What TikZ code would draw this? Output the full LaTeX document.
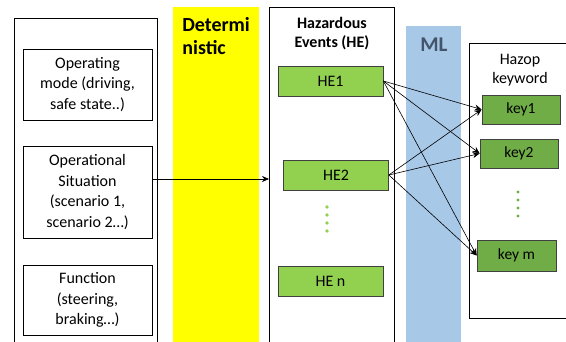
\documentclass[tikz,border=0pt]{standalone}
\usepackage{fontspec}
\setmainfont{Carlito}
\usepackage{xcolor}
\usetikzlibrary{arrows.meta,positioning,calc}
\definecolor{hegreen}{HTML}{92D050}
\definecolor{keygreen}{HTML}{70AD47}
\definecolor{mlblue}{HTML}{A8C8E8}
\definecolor{mltext}{HTML}{44546A}
\definecolor{detyellow}{HTML}{FFFF00}

\begin{document}
\begin{tikzpicture}[x=1pt,y=-1pt,line width=0.7pt,
        frame/.style={draw,anchor=north west},
        box/.style={draw,align=center,minimum width=129pt,font=\fontsize{16}{20.5}\selectfont},
        he/.style={draw=black!75,fill=hegreen,minimum width=105pt,minimum height=30pt,font=\fontsize{16}{19}\selectfont},
        key/.style={draw=black!75,fill=keygreen,minimum width=78pt,minimum height=29pt,font=\fontsize{15.5}{19}\selectfont},
        arr/.style={-{Stealth[length=7pt,width=6pt]},line width=0.6pt}]
        \useasboundingbox (0,0) rectangle (566,342);
        \clip (0,0) rectangle (566,342);
        % background bands
        \fill[detyellow] (173,7) rectangle (259,350);
        \fill[mlblue] (406,26) rectangle (461,350);
        % containers
        \node[frame,minimum width=143pt,minimum height=340pt] (ctx) at (14,18) {};
        \node[frame,fill=white,minimum width=125pt,minimum height=345pt] (hebox) at (269,7) {};
        \node[frame,fill=white,minimum width=110pt,minimum height=275pt] (hzbox) at (469,43) {};
        % titles
        \node[anchor=north west,align=left,inner sep=0pt,font=\bfseries\fontsize{20}{23}\selectfont] (det) at (182,17) {Determi\\nistic};
        \node[anchor=north,align=center,inner sep=0pt,font=\bfseries\fontsize{16}{19}\selectfont] (hetitle) at (332,17) {Hazardous\\Events (HE)};
        \node[font=\bfseries\fontsize{21}{24}\selectfont,text=mltext] (ml) at (434,45) {ML};
        \node[align=center,font=\fontsize{16}{19}\selectfont] (hztitle) at (520,70) {Hazop\\keyword};
        % left column
        \node[box,minimum height=71pt] (mode) at (87.5,84.5) {Operating\\mode (driving,\\safe state..)};
        \node[box,minimum height=92pt] (sit) at (87.5,192) {Operational\\Situation\\(scenario 1,\\scenario 2…)};
        \node[box,minimum height=70pt] (func) at (87.5,300) {Function\\(steering,\\braking…)};
        % hazardous events
        \node[he] (he1) at (330.5,81) {HE1};
        \node[he] (he2) at (336,175) {HE2};
        \node[he] (hen) at (330.5,281.5) {HE n};
        \foreach \y in {207,215,223,231} \fill[hegreen] (327,\y) circle (1.9pt);
        % keywords
        \node[key] (key1) at (521,109.5) {key1};
        \node[key] (key2) at (519,153.5) {key2};
        \node[key,minimum width=79pt,minimum height=31pt] (keym) at (516.5,255.5) {key m};
        \foreach \y in {192,200,208,216} \fill[keygreen] (518,\y) circle (1.7pt);
        % connections
        \draw[arr] ([yshift=13pt]sit.east) -- ([yshift=13pt]sit.east -| hebox.west);
        \foreach \s in {he1,he2}
            \foreach \t in {key1,key2,keym}
                \draw[arr] (\s.east) -- (\t.west);
    \end{tikzpicture}
\end{document}
